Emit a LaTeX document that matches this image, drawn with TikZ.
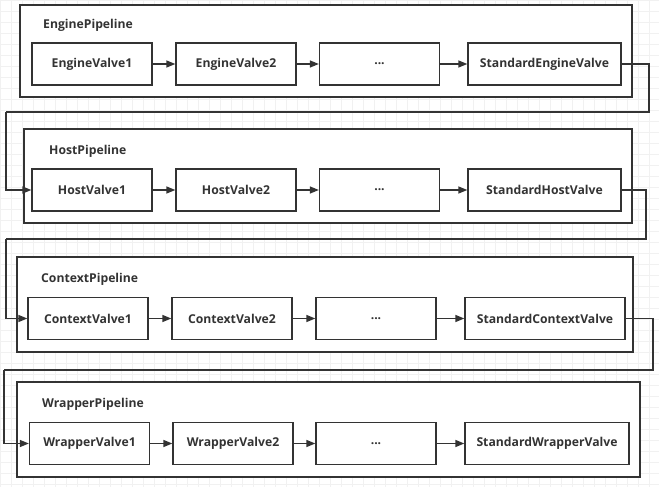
\documentclass[tikz,border=0pt]{standalone}
\usepackage{fontspec}
\setmainfont{Open Sans}
\usetikzlibrary{arrows.meta}
\definecolor{linec}{HTML}{333333}
\definecolor{gridc}{HTML}{F1F1F1}
\tikzset{
 pipe/.style={draw=linec,fill=white,line width=1.3pt},
 valve/.style={draw=linec,fill=white,line width=1.3pt,minimum width=120pt,minimum height=42pt,inner sep=0pt},
 stdvalve/.style={valve,minimum width=153pt},
 title/.style={anchor=base west,inner sep=0pt},
 link/.style={draw=linec,line width=1.3pt,-{Triangle[length=9pt,width=7pt]}},
 hop/.style={draw=linec,line width=1.3pt}
}
\begin{document}
\begin{tikzpicture}[x=1pt,y=-1pt,every node/.style={font=\fontsize{12.2}{14}\selectfont\bfseries,text=linec}]
 \useasboundingbox (0,0) rectangle (659,487);
 \fill[white] (0,0) rectangle (659,487);
 \draw[gridc,step=11pt,line width=.6pt] (0,0) grid (659,487);
 % engine
 \draw[pipe] (20,5) rectangle (632,97);
 \node[title] (ep) at (43,28.5) {EnginePipeline};
 \node[valve] (ev1) at (92,64) {EngineValve1};
 \node[valve] (ev2) at (236,64) {EngineValve2};
 \node[valve] (ed) at (379.5,64) {...};
 \node[stdvalve] (es) at (544.5,64) {StandardEngineValve};
 \draw[link] (ev1) -- (ev2);
 \draw[link] (ev2) -- (ed);
 \draw[link] (ed) -- (es);
 % host
 \draw[pipe] (24,129) rectangle (632,223);
 \node[title] (hp) at (49,154.5) {HostPipeline};
 \node[valve] (hv1) at (92,190) {HostValve1};
 \node[valve] (hv2) at (236,190) {HostValve2};
 \node[valve] (hd) at (379.5,190) {...};
 \node[stdvalve] (hs) at (544.5,190) {StandardHostValve};
 \draw[link] (hv1) -- (hv2);
 \draw[link] (hv2) -- (hd);
 \draw[link] (hd) -- (hs);
 % context
 \draw[pipe] (17,257) rectangle (633,352);
 \node[title] (cp) at (41,282) {ContextPipeline};
 \node[valve] (cv1) at (88,318.5) {ContextValve1};
 \node[valve] (cv2) at (232,318.5) {ContextValve2};
 \node[valve] (cd) at (376,318.5) {...};
 \node[stdvalve,minimum width=160pt] (cs) at (545,318.5) {StandardContextValve};
 \draw[link] (cv1) -- (cv2);
 \draw[link] (cv2) -- (cd);
 \draw[link] (cd) -- (cs);
 % wrapper
 \draw[pipe] (17,382) rectangle (640,477);
 \node[title] (wp) at (42,407.5) {WrapperPipeline};
 \node[valve] (wv1) at (89.5,443.5) {WrapperValve1};
 \node[valve] (wv2) at (233,443.5) {WrapperValve2};
 \node[valve] (wd) at (376,443.5) {...};
 \node[stdvalve,minimum width=164pt] (ws) at (547,443.5) {StandardWrapperValve};
 \draw[link] (wv1) -- (wv2);
 \draw[link] (wv2) -- (wd);
 \draw[link] (wd) -- (ws);
 % hand over to next pipeline
 \coordinate (a1) at (649,112); \coordinate (b1) at (6,112);
 \coordinate (a2) at (646,239); \coordinate (b2) at (6,239);
 \coordinate (a3) at (653,370); \coordinate (b3) at (4,370);
 \draw[hop] (es.east) -| (a1) -- (b1);
 \draw[link] (b1) |- (hv1.west);
 \draw[hop] (hs.east) -| (a2) -- (b2);
 \draw[link] (b2) |- (cv1.west);
 \draw[hop] (cs.east) -| (a3) -- (b3);
 \draw[link] (b3) |- (wv1.west);
\end{tikzpicture}
\end{document}
